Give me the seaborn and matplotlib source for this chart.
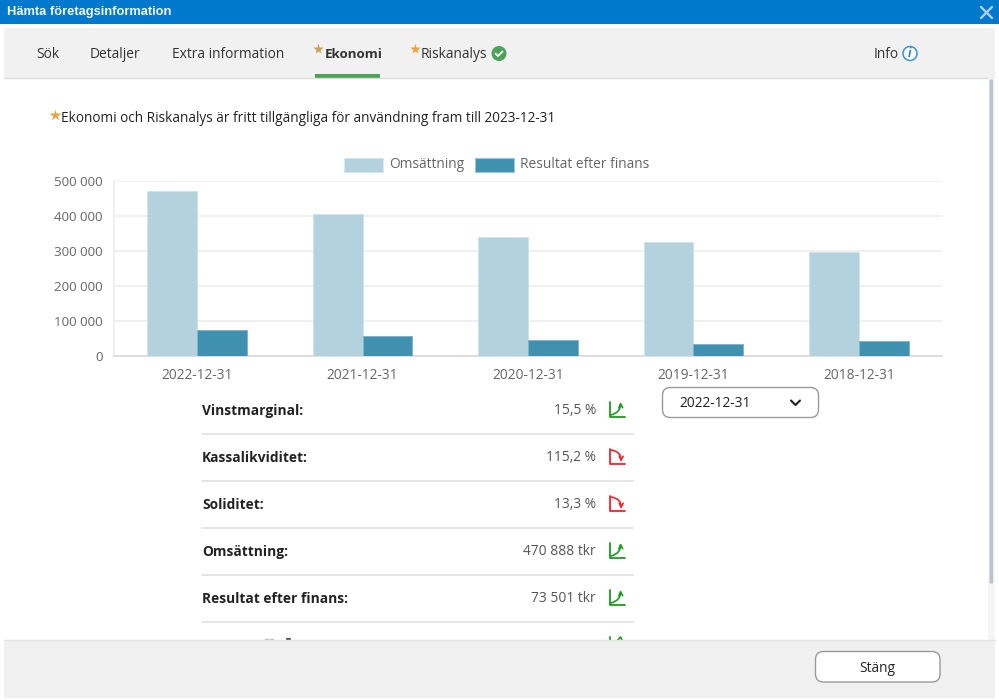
import numpy as np
import pandas as pd
import matplotlib
matplotlib.use('Agg')
import matplotlib.pyplot as plt
from matplotlib.patches import Rectangle, FancyBboxPatch, Circle, FancyArrowPatch
from matplotlib.transforms import ScaledTranslation
import seaborn as sns

# data
years = ['2022-12-31', '2021-12-31', '2020-12-31', '2019-12-31', '2018-12-31']
omsattning = [470888, 406000, 340500, 325000, 298500]
resultat = [73501, 56000, 45800, 34300, 42000]
series_names = ['Omsättning', 'Resultat efter finans']
y_ticks = [0, 100000, 200000, 300000, 400000, 500000]

# key figures below the chart
row_labels = ['Vinstmarginal:', 'Kassalikviditet:', 'Soliditet:', 'Omsättning:', 'Resultat efter finans:']
row_values = ['15,5 %', '115,2 %', '13,3 %', '470 888 tkr', '73 501 tkr']
row_trend = ['up', 'down', 'down', 'up', 'up']

tabs = ['Sök', 'Detaljer', 'Extra information', 'Riskanalys', 'Info']

LIGHT = '#B3D2DD'
DARK = '#4090B0'
BLUE = '#0079CC'
GREY_BG = '#F1F1F1'
STAR = '#E8A33D'
FS = 9.9

sns.set_theme(style='white')
plt.rcParams['font.family'] = ['Open Sans', 'DejaVu Sans']

fig = plt.figure(figsize=(9.99, 7.0), dpi=100, facecolor='white')

# ------ page around the chart, in pixels ------
bg = fig.add_axes([0, 0, 1, 1], zorder=0)
bg.set_xlim(0, 999)
bg.set_ylim(700, 0)
bg.axis('off')

bg.add_patch(Rectangle((0, 0), 999, 24, fc=BLUE, ec='none'))
bg.add_patch(Rectangle((4, 28), 991, 50, fc=GREY_BG, ec='none'))
bg.plot([4, 995], [77.5, 77.5], color='#DDDDDD', lw=1)
bg.text(7, 11.5, 'Hämta företagsinformation', color='#F4F8FC', fontsize=9.3, fontweight='bold',
        family=['Liberation Sans'], va='center')
bg.plot([981, 992], [7, 18], color='#A9D0EC', lw=1.7)
bg.plot([981, 992], [18, 7], color='#A9D0EC', lw=1.7)

# tabs
tab_x = [36, 90, 171.5, 421, 874]
for name, x in zip(tabs, tab_x):
    bg.text(x, 55, name, fontsize=FS, color='#333333', va='center')
bg.text(324.5, 55, 'Ekonomi', fontsize=9.6, color='#333333', va='center', fontweight='bold')
bg.add_patch(Rectangle((314.5, 74), 65.5, 4, fc='#4FA15A', ec='none'))
bg.plot([318], [48.5], marker='*', ms=8, color='#C9A15F', mec='none')
bg.plot([415], [49], marker='*', ms=8, color=STAR, mec='none')

# check badge next to Riskanalys
bg.add_patch(Circle((499, 53.5), 7.5, fc='#4FA15A', ec='none'))
bg.plot([495.5, 498, 502.5], [53.5, 56, 51.5], color='white', lw=1.3)

# info icon
bg.add_patch(Circle((910, 53.5), 7, fc='white', ec='#3D8FD6', lw=1.1))
bg.text(910, 53.5, 'i', fontsize=8.5, color='#2F7FC8', ha='center', va='center', style='italic', fontweight='bold')

# note above chart
bg.plot([54.6], [115], marker='*', ms=9, color=STAR, mec='none')
bg.text(61, 119, 'Ekonomi och Riskanalys är fritt tillgängliga för användning fram till 2023-12-31',
        fontsize=9.85, color='#222222', va='center')

# legend
bg.add_patch(Rectangle((343.5, 158), 39, 13.5, fc=LIGHT, ec='#D5E6EC', lw=0.8))
bg.add_patch(Rectangle((474.5, 158), 39, 13.5, fc=DARK, ec='#9CC6D6', lw=0.8))
bg.text(389.5, 164, series_names[0], fontsize=FS, color='#666666', va='center')
bg.text(520.5, 164, series_names[1], fontsize=FS, color='#666666', va='center')

# table rows
row_y = [410, 457, 504, 551, 598]
for lab, val, trend, y in zip(row_labels, row_values, row_trend, row_y):
    bg.text(202, y + 0.8, lab, fontsize=FS, fontweight='bold', color='#222222', va='center')
    bg.text(596, y + 0.8, val, fontsize=FS, color='#555555', va='center', ha='right')
    bg.plot([202, 633], [y + 24, y + 24], color='#E6E6E6', lw=1.4)
    col = '#1E9A1E' if trend == 'up' else '#F5222D'
    bg.plot([609.5, 609.5, 625], [y - 8, y + 7, y + 7], color=col, lw=1.3)
    if trend == 'up':
        arrow = FancyArrowPatch((611, y + 5), (620.5, y - 8), connectionstyle='arc3,rad=0.4', arrowstyle='->',
                                mutation_scale=7, color=col, lw=1.2, shrinkA=0, shrinkB=0)
    else:
        arrow = FancyArrowPatch((611, y - 7), (621, y + 5), connectionstyle='arc3,rad=-0.45', arrowstyle='->',
                                mutation_scale=7, color=col, lw=1.2, shrinkA=0, shrinkB=0)
    bg.add_patch(arrow)

# next row is hidden by the footer, only the tops of a few letters show
bg.plot([265, 268], [639, 639], color='#BBBBBB', lw=1)
bg.plot([270, 273], [639, 639], color='#BBBBBB', lw=1)
bg.plot([287, 290], [639, 639], color='#555555', lw=1.6)
bg.plot([609.5, 609.5], [637, 650], color='#1E9A1E', lw=1.3)
bg.plot([617, 620.5, 622], [641, 637, 640], color='#1E9A1E', lw=1.2)

# footer and scrollbar
bg.add_patch(Rectangle((0, 640), 999, 60, fc='#F0F0F0', ec='none', zorder=5))
bg.plot([4, 995], [640, 640], color='#E4E4E4', lw=1, zorder=6)
bg.add_patch(Rectangle((995, 78), 4, 622, fc='white', ec='none', zorder=5))
bg.add_patch(Rectangle((0, 640), 4, 60, fc='white', ec='none', zorder=6))
bg.add_patch(Rectangle((988, 78), 7, 562, fc='#F6F6F6', ec='none', zorder=4))
bg.add_patch(FancyBboxPatch((990, 80), 2.6, 503, boxstyle='round,pad=0.5', fc='#BCC3CC', ec='none', zorder=6))
bg.add_patch(Rectangle((0, 698), 999, 2, fc='white', ec='none', zorder=6))

# buttons
bg.add_patch(FancyBboxPatch((662.5, 387.5), 156, 30, boxstyle='round,pad=0,rounding_size=8',
                            fc='white', ec='#9A9A9A', lw=1, zorder=7))
bg.text(679, 403.5, years[0], fontsize=FS, color='#222222', va='center', zorder=8)
bg.plot([791, 795.5, 800], [400.5, 405, 400.5], color='#222222', lw=1.5, zorder=8)
bg.add_patch(FancyBboxPatch((815.5, 651.5), 124.5, 30.5, boxstyle='round,pad=0,rounding_size=8',
                            fc='white', ec='#9A9A9A', lw=1, zorder=7))
bg.text(877.5, 668, 'Stäng', fontsize=FS, color='#222222', va='center', ha='center', zorder=8)

# ------ the chart itself ------
left, right, top, bottom = 114.3, 941.7, 181.3, 356.0
ax = fig.add_axes([left / 999, 1 - bottom / 700, (right - left) / 999, (bottom - top) / 700],
                  zorder=2, facecolor='none')

df = pd.DataFrame({'year': years * 2,
                   'value': omsattning + resultat,
                   'serie': [series_names[0]] * 5 + [series_names[1]] * 5})
sns.barplot(data=df, x='year', y='value', hue='serie', order=years, hue_order=series_names,
            palette=[LIGHT, DARK], width=0.6, gap=0, legend=False, ax=ax, zorder=3, saturation=1)
for cont, edge in zip(ax.containers, ['#CFE3EA', '#7FB6CC']):
    for patch in cont:
        patch.set_edgecolor(edge)
        patch.set_linewidth(0.7)

ax.set_xlim(-0.5, 4.5)
ax.set_ylim(0, 500000)
ax.set_xlabel('')
ax.set_ylabel('')
ax.set_yticks(y_ticks)
ax.set_yticklabels([f'{v:,}'.replace(',', ' ') for v in y_ticks])
ax.grid(axis='y', color='#EDEDED', lw=1.2, zorder=0)
ax.set_axisbelow(True)
ax.tick_params(axis='y', length=7, width=1, color='#EDEDED', labelsize=9.6, labelcolor='#666666', pad=1.5)
ax.tick_params(axis='x', length=0, labelsize=FS, labelcolor='#666666', pad=8.5)
sns.despine(ax=ax, top=True, right=True)
ax.spines['left'].set_color('#EDEDED')
ax.spines['bottom'].set_color('#D8D8D8')
ax.spines['bottom'].set_linewidth(1.2)

fig.savefig('out.png', dpi=100)
